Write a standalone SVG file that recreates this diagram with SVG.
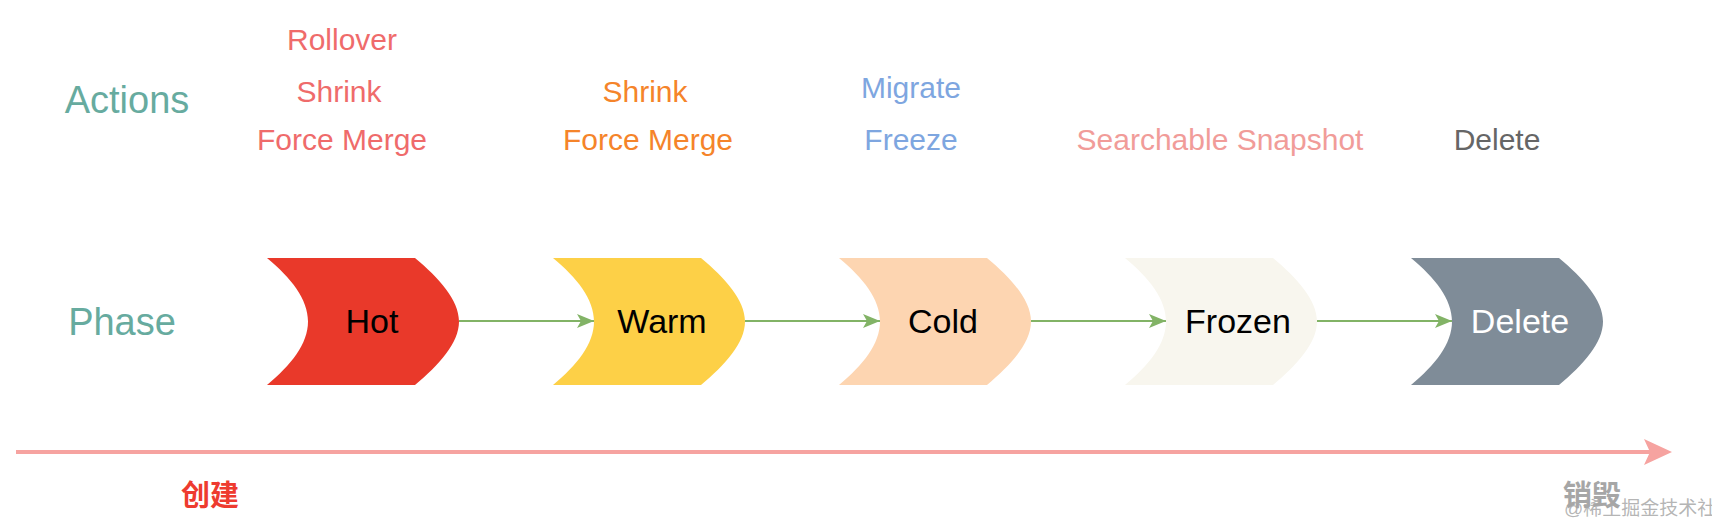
<svg xmlns="http://www.w3.org/2000/svg" width="1712" height="523" viewBox="0 0 1712 523">
<style>
  text { font-family: "Liberation Sans", Arial, "Noto Sans CJK SC", sans-serif; }
  .lbl { font-size: 38px; fill: #67AB9F; text-anchor: middle; }
  .act { font-size: 30px; text-anchor: middle; }
  .ph { font-size: 34px; text-anchor: middle; fill: #000000; }
  .conn { stroke: #82B366; stroke-width: 2; fill: none; }
  .cjk { font-family: "Noto Sans CJK SC", sans-serif; font-weight: bold; font-size: 29px; text-anchor: middle; }
</style>
<defs>
  <path id="step" d="M0,0 L148,0 C172,20 192,42 192,63.5 C192,85 172,107 148,127 L0,127 C24,107 41,86 41,63.5 C41,41 24,20 0,0 Z"/>
  <marker id="ga" markerUnits="userSpaceOnUse" markerWidth="18" markerHeight="14" refX="17" refY="7" orient="auto">
    <path d="M0,0 L17,7 L0,14 L4,7 Z" fill="#82B366"/>
  </marker>
</defs>

<g id="labels">
  <text class="lbl" x="127" y="113">Actions</text>
  <text class="lbl" x="122" y="335">Phase</text>
</g>

<g id="actions-hot" fill="#EF6B6B">
  <text class="act" x="342" y="50" fill="#EF6B6B">Rollover</text>
  <text class="act" x="339" y="102" fill="#EF6B6B">Shrink</text>
  <text class="act" x="342" y="150" fill="#EF6B6B">Force Merge</text>
</g>
<g id="actions-warm">
  <text class="act" x="645" y="102" fill="#F5842A">Shrink</text>
  <text class="act" x="648" y="150" fill="#F5842A">Force Merge</text>
</g>
<g id="actions-cold">
  <text class="act" x="911" y="98" fill="#7EA6E0">Migrate</text>
  <text class="act" x="911" y="150" fill="#7EA6E0">Freeze</text>
</g>
<g id="actions-frozen">
  <text class="act" x="1220" y="150" fill="#F19C99">Searchable Snapshot</text>
</g>
<g id="actions-delete">
  <text class="act" x="1497" y="150" fill="#666666">Delete</text>
</g>

<g id="connectors">
  <line class="conn" x1="459" y1="321" x2="594" y2="321" marker-end="url(#ga)"/>
  <line class="conn" x1="745" y1="321" x2="880" y2="321" marker-end="url(#ga)"/>
  <line class="conn" x1="1031" y1="321" x2="1166" y2="321" marker-end="url(#ga)"/>
  <line class="conn" x1="1317" y1="321" x2="1452" y2="321" marker-end="url(#ga)"/>
</g>

<g id="hot">
  <use href="#step" x="267" y="258" fill="#E9392A"/>
  <text class="ph" x="372" y="333">Hot</text>
</g>
<g id="warm">
  <use href="#step" x="553" y="258" fill="#FDD047"/>
  <text class="ph" x="662" y="333">Warm</text>
</g>
<g id="cold">
  <use href="#step" x="839" y="258" fill="#FDD5B1"/>
  <text class="ph" x="943" y="333">Cold</text>
</g>
<g id="frozen">
  <use href="#step" x="1125" y="258" fill="#F8F6EE"/>
  <text class="ph" x="1238" y="333">Frozen</text>
</g>
<g id="delete">
  <use href="#step" x="1411" y="258" fill="#7F8C98"/>
  <text class="ph" x="1520" y="333" fill="#FFFFFF" style="fill:#FFFFFF">Delete</text>
</g>

<g id="timeline">
  <line x1="16" y1="452" x2="1652" y2="452" stroke="#F6A3A0" stroke-width="4"/>
  <path d="M1644,439 L1672,452 L1644,465 L1650,452 Z" fill="#F6A3A0"/>
  <text class="cjk" x="210" y="506" fill="#EE3B2F">创建</text>
  <text class="cjk" x="1592" y="506" fill="#A6A6A6">销毁</text>
  <text x="1564" y="515" font-family="Noto Sans CJK SC, sans-serif" font-size="19" fill="#A8A8A8" fill-opacity="0.85">@稀土掘金技术社区</text>
</g>
</svg>
